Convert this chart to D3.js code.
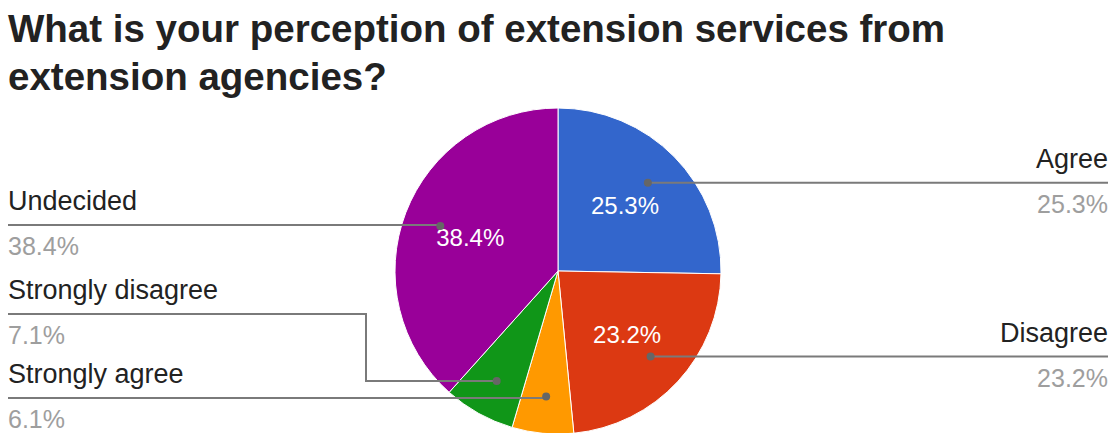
<!DOCTYPE html>
<html>
<head>
<meta charset="utf-8">
<script src="https://cdn.jsdelivr.net/npm/d3@7"></script>
<style>
  body { margin: 0; background: #fff; }
  text { font-family: "Liberation Sans", Arial, sans-serif; }
</style>
</head>
<body>
<div id="chart"></div>
<script>
// Data
const categories = ["Agree", "Disagree", "Strongly agree", "Strongly disagree", "Undecided"];
const values = [25.3, 23.2, 6.1, 7.1, 38.4];
const titleLines = ["What is your perception of extension services from", "extension agencies?"];

const colors = ["#3366cc", "#dc3912", "#ff9900", "#109618", "#990099"];

// label placement (side + y of leader line)
const labelLayout = {
  "Agree": { side: "right", y: 183 },
  "Disagree": { side: "right", y: 357 },
  "Undecided": { side: "left", y: 225 },
  "Strongly disagree": { side: "left", y: 314 },
  "Strongly agree": { side: "left", y: 398 }
};

const width = 1115, height = 433;
const cx = 558, cy = 271, radius = 163;

const svg = d3.select("#chart")
  .append("svg")
    .attr("width", width)
    .attr("height", height);

// Title
svg.selectAll("text.title")
  .data(titleLines)
  .enter().append("text")
    .attr("class", "title")
    .attr("x", 8)
    .attr("y", (d, i) => 42 + i * 48)
    .style("font-size", "38.5px")
    .style("font-weight", "bold")
    .attr("fill", "#222")
    .text(d => d);

const data = categories.map((c, i) => ({ name: c, value: values[i], color: colors[i] }));

const pie = d3.pie().sort(null).value(d => d.value);
const arc = d3.arc().innerRadius(0).outerRadius(radius);
const dotArc = d3.arc().innerRadius(126).outerRadius(126);
const textArc = d3.arc().innerRadius(94).outerRadius(94);

const g = svg.append("g")
  .attr("transform", `translate(${cx},${cy})`);

const arcs = pie(data);

g.selectAll("path")
  .data(arcs)
  .enter().append("path")
    .attr("d", arc)
    .attr("fill", d => d.data.color)
    .attr("stroke", "#fff")
    .attr("stroke-width", 1);

// Percent text inside bigger slices
g.selectAll("text.inner")
  .data(arcs.filter(d => d.data.value > 10))
  .enter().append("text")
    .attr("class", "inner")
    .attr("transform", d => `translate(${textArc.centroid(d)})`)
    .attr("dy", "0.35em")
    .attr("text-anchor", "middle")
    .attr("fill", "#fff")
    .style("font-size", "24px")
    .text(d => d.data.value.toFixed(1) + "%");

// Leader lines and labels
const lines = svg.append("g");
arcs.forEach(function(d) {
  const lay = labelLayout[d.data.name];
  const c = dotArc.centroid(d);
  const dx = cx + c[0], dy = cy + c[1];
  let path;
  if (lay.side === "right") {
    path = `M${dx},${dy}H1108`;
  } else if (Math.abs(dy - lay.y) < 3) {
    path = `M8,${lay.y}H${dx}`;
  } else {
    path = `M8,${lay.y}H366V${dy}H${dx}`;
  }
  lines.append("path")
    .attr("d", path)
    .attr("fill", "none")
    .attr("stroke", "#7a7a7a")
    .attr("stroke-width", 2);
  lines.append("circle")
    .attr("cx", dx)
    .attr("cy", dy)
    .attr("r", 4)
    .attr("fill", "#666");

  const tx = lay.side === "right" ? 1108 : 8;
  const anchor = lay.side === "right" ? "end" : "start";
  lines.append("text")
    .attr("x", tx)
    .attr("y", lay.y - 15)
    .attr("text-anchor", anchor)
    .attr("fill", "#222")
    .style("font-size", "27px")
    .text(d.data.name);
  lines.append("text")
    .attr("x", tx)
    .attr("y", lay.y + 30)
    .attr("text-anchor", anchor)
    .attr("fill", "#9e9e9e")
    .style("font-size", "25px")
    .text(d.data.value.toFixed(1) + "%");
});
</script>
</body>
</html>
